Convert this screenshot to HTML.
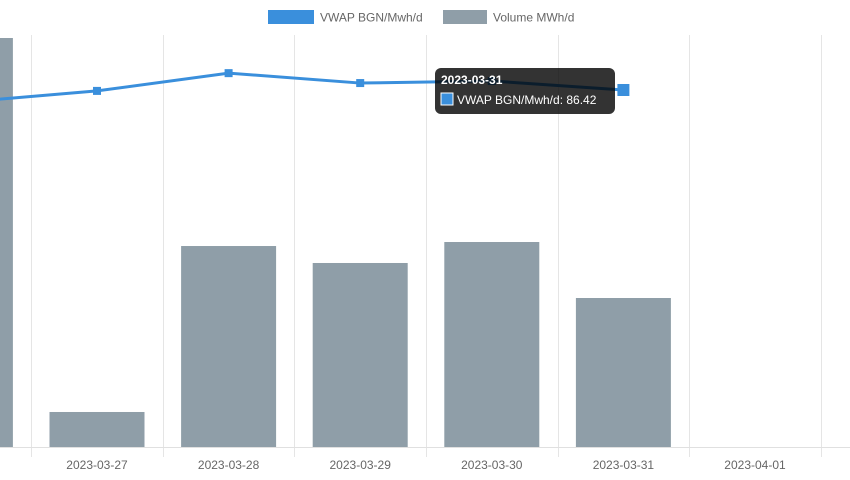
<!DOCTYPE html>
<html><head><meta charset="utf-8"><style>
html,body{margin:0;padding:0;background:#fff;}
svg{display:block;font-family:"Liberation Sans",sans-serif;}
</style></head><body>
<svg id="chart" width="850" height="480" viewBox="0 0 850 480">
<g id="legend">
<rect x="268" y="10" width="46" height="14" fill="#3a8fdc"/>
<text x="320" y="21.5" font-size="12" fill="#666">VWAP BGN/Mwh/d</text>
<rect x="443" y="10" width="44" height="14" fill="#8f9ea8"/>
<text x="493" y="21.5" font-size="12" fill="#666">Volume MWh/d</text>
</g>
<g id="grid"></g>
<g id="bars"></g>
<g id="line"></g>
<g id="xlabels"></g>
<g id="tooltip">
<rect x="435" y="68" width="180" height="46" rx="6" fill="rgba(0,0,0,0.8)"/>
<text x="441" y="84" font-size="12" font-weight="bold" fill="#fff">2023-03-31</text>
<rect x="441" y="93" width="12" height="12" fill="#3a8fdc" stroke="#fff" stroke-width="1"/>
<text x="457" y="104" font-size="12" fill="#fff">VWAP BGN/Mwh/d: 86.42</text>
</g>
</svg>
<script>
const categories = ["2023-03-26","2023-03-27","2023-03-28","2023-03-29","2023-03-30","2023-03-31","2023-04-01"];
const vwapValues = [83.5, 86.2, 90.5, 88.1, 88.6, 86.42, null];
const volumeValues = [10000, 856, 4914, 4499, 5012, 3643, 0];
const activeIndex = 5;

const NS = "http://www.w3.org/2000/svg";
const step = 131.6, firstCenter = -34.6, baseY = 447;
function xOf(i){ return firstCenter + i*step; }
function yVwap(v){ return baseY - v*4.131; }
function yVol(v){ return baseY - v*0.0409; }
function mk(tag, attrs, parent){
  const e = document.createElementNS(NS, tag);
  for (const k in attrs) e.setAttribute(k, attrs[k]);
  parent.appendChild(e); return e;
}
const grid = document.getElementById('grid');
for (let i = 0; i <= categories.length; i++) {
  const gx = Math.round(xOf(i) - step/2) + 0.5;
  const l = mk('line', {x1:gx, x2:gx, y1:35, y2:457, stroke:'#e5e5e5', 'stroke-width':1}, grid);
  
  
}
const ax = mk('line', {x1:0, x2:850, y1:baseY+0.5, y2:baseY+0.5, stroke:'#e0e0e0'}, grid);



const bars = document.getElementById('bars');
volumeValues.forEach((v, i) => {
  if (!v) return;
  const top = yVol(v);
  const r = mk('rect', {x:xOf(i)-47.5, y:top, width:95, height:baseY-top, fill:'#8f9ea8'}, bars);
  
  
});

const line = document.getElementById('line');
let d = '';
vwapValues.forEach((v, i) => { if (v == null) return; d += (d ? 'L' : 'M') + xOf(i) + ',' + yVwap(v); });
const p = mk('path', {d:d, fill:'none', stroke:'#3a8fdc', 'stroke-width':3}, line);


vwapValues.forEach((v, i) => {
  if (v == null) return;
  const s = i === activeIndex ? 12 : 8;
  const r = mk('rect', {x:xOf(i)-s/2, y:yVwap(v)-s/2, width:s, height:s, fill:'#3a8fdc'}, line);
  
  
});

const xl = document.getElementById('xlabels');
categories.forEach((c, i) => {
  const t = mk('text', {x:xOf(i), y:469, 'font-size':12, fill:'#666', 'text-anchor':'middle'}, xl);
  t.textContent = c;
  
  
});
</script>
</body></html>
